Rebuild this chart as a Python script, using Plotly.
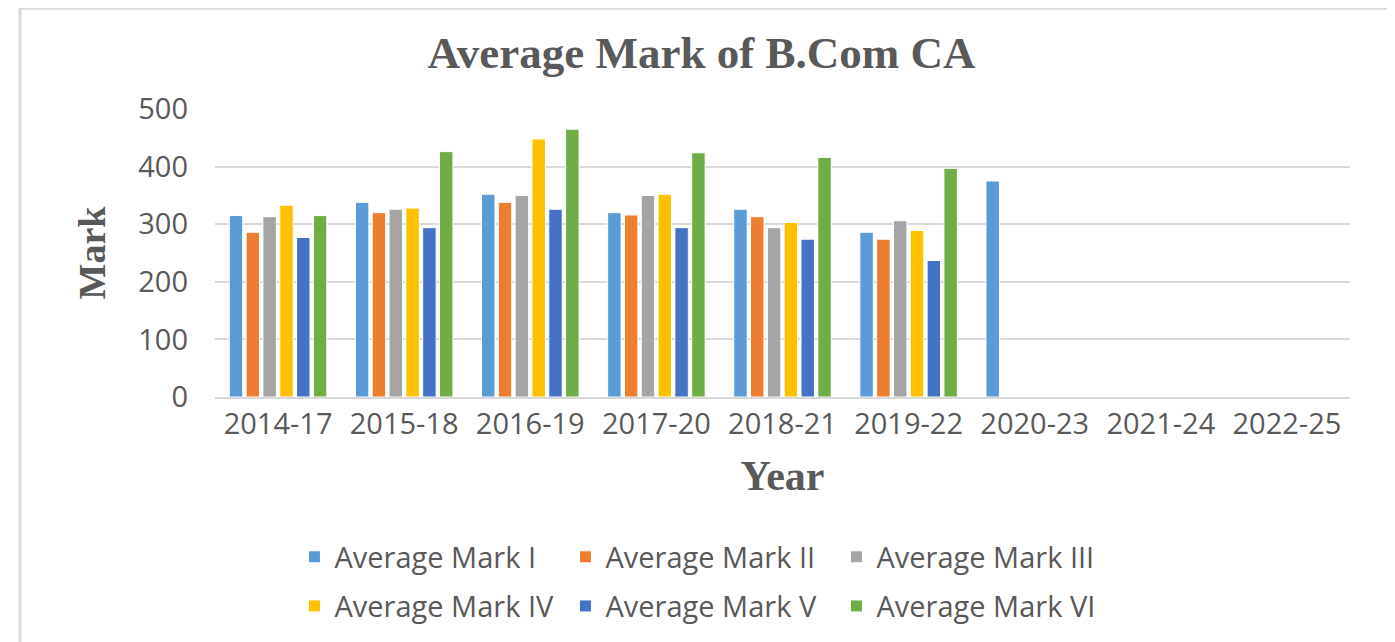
import plotly.graph_objects as go

years = ["2014-17", "2015-18", "2016-19", "2017-20", "2018-21",
         "2019-22", "2020-23", "2021-24", "2022-25"]

mark_1 = [315, 338, 352, 320, 326, 286, 375, None, None]
mark_2 = [286, 320, 338, 316, 313, 274, None, None, None]
mark_3 = [313, 326, 350, 350, 294, 306, None, None, None]
mark_4 = [333, 328, 448, 352, 303, 289, None, None, None]
mark_5 = [277, 294, 326, 294, 274, 237, None, None, None]
mark_6 = [315, 426, 465, 424, 416, 397, None, None, None]

series_names = ["Average Mark I", "Average Mark II", "Average Mark III",
                "Average Mark IV", "Average Mark V", "Average Mark VI"]
series_values = [mark_1, mark_2, mark_3, mark_4, mark_5, mark_6]
colors = ["#5B9BD5", "#ED7D31", "#A5A5A5", "#FFC000", "#4472C4", "#70AD47"]

grey_text = "#595959"

fig = go.Figure()
for i, (name, vals) in enumerate(zip(series_names, series_values)):
    fig.add_trace(go.Bar(
        x=years, y=vals, name=name,
        marker=dict(color=colors[i], line=dict(color="white", width=1)),
        legend="legend" if i < 3 else "legend2",
    ))

legend_style = dict(
    orientation="h", xanchor="left", yanchor="middle", x=0.07,
    font=dict(family="Open Sans", size=29, color=grey_text),
    entrywidth=226, bgcolor="rgba(0,0,0,0)",
)

# the page body adds an 8px offset, so the figure is 8px smaller each way
fig.update_layout(
    width=1387, height=634,
    margin=dict(l=207, r=45, t=101, b=244),
    paper_bgcolor="white", plot_bgcolor="white",
    barmode="group", bargap=0.2, bargroupgap=0.2,
    title=dict(text="<b>Average Mark of B.Com CA</b>", x=0.5, xanchor="center",
               y=0.93, yanchor="middle",
               font=dict(family="Liberation Serif", size=45, color=grey_text)),
    xaxis=dict(
        title=dict(text="<b>Year</b>", standoff=20,
                   font=dict(family="Liberation Serif", size=42, color=grey_text)),
        tickfont=dict(family="Open Sans", size=29, color=grey_text),
        showline=True, linecolor="#D9D9D9", linewidth=2, ticks="",
    ),
    yaxis=dict(
        title=dict(text="<b>Mark</b>", standoff=20,
                   font=dict(family="Liberation Serif", size=38, color=grey_text)),
        range=[0, 500], dtick=100,
        tickfont=dict(family="Open Sans", size=29, color=grey_text),
        showgrid=True, gridcolor="#D9D9D9", gridwidth=2,
        zeroline=False, ticks="", ticklabelstandoff=26,
    ),
    legend=dict(y=-0.55, **legend_style),
    legend2=dict(y=-0.72, **legend_style),
    showlegend=True,
)

# chart frame
fig.add_shape(type="rect", xref="paper", yref="paper",
              x0=-0.1718, x1=1.037, y0=-0.9, y1=1.35,
              line=dict(color="#D9D9D9", width=3), fillcolor="rgba(0,0,0,0)",
              layer="below")

fig.write_html("out.html")
